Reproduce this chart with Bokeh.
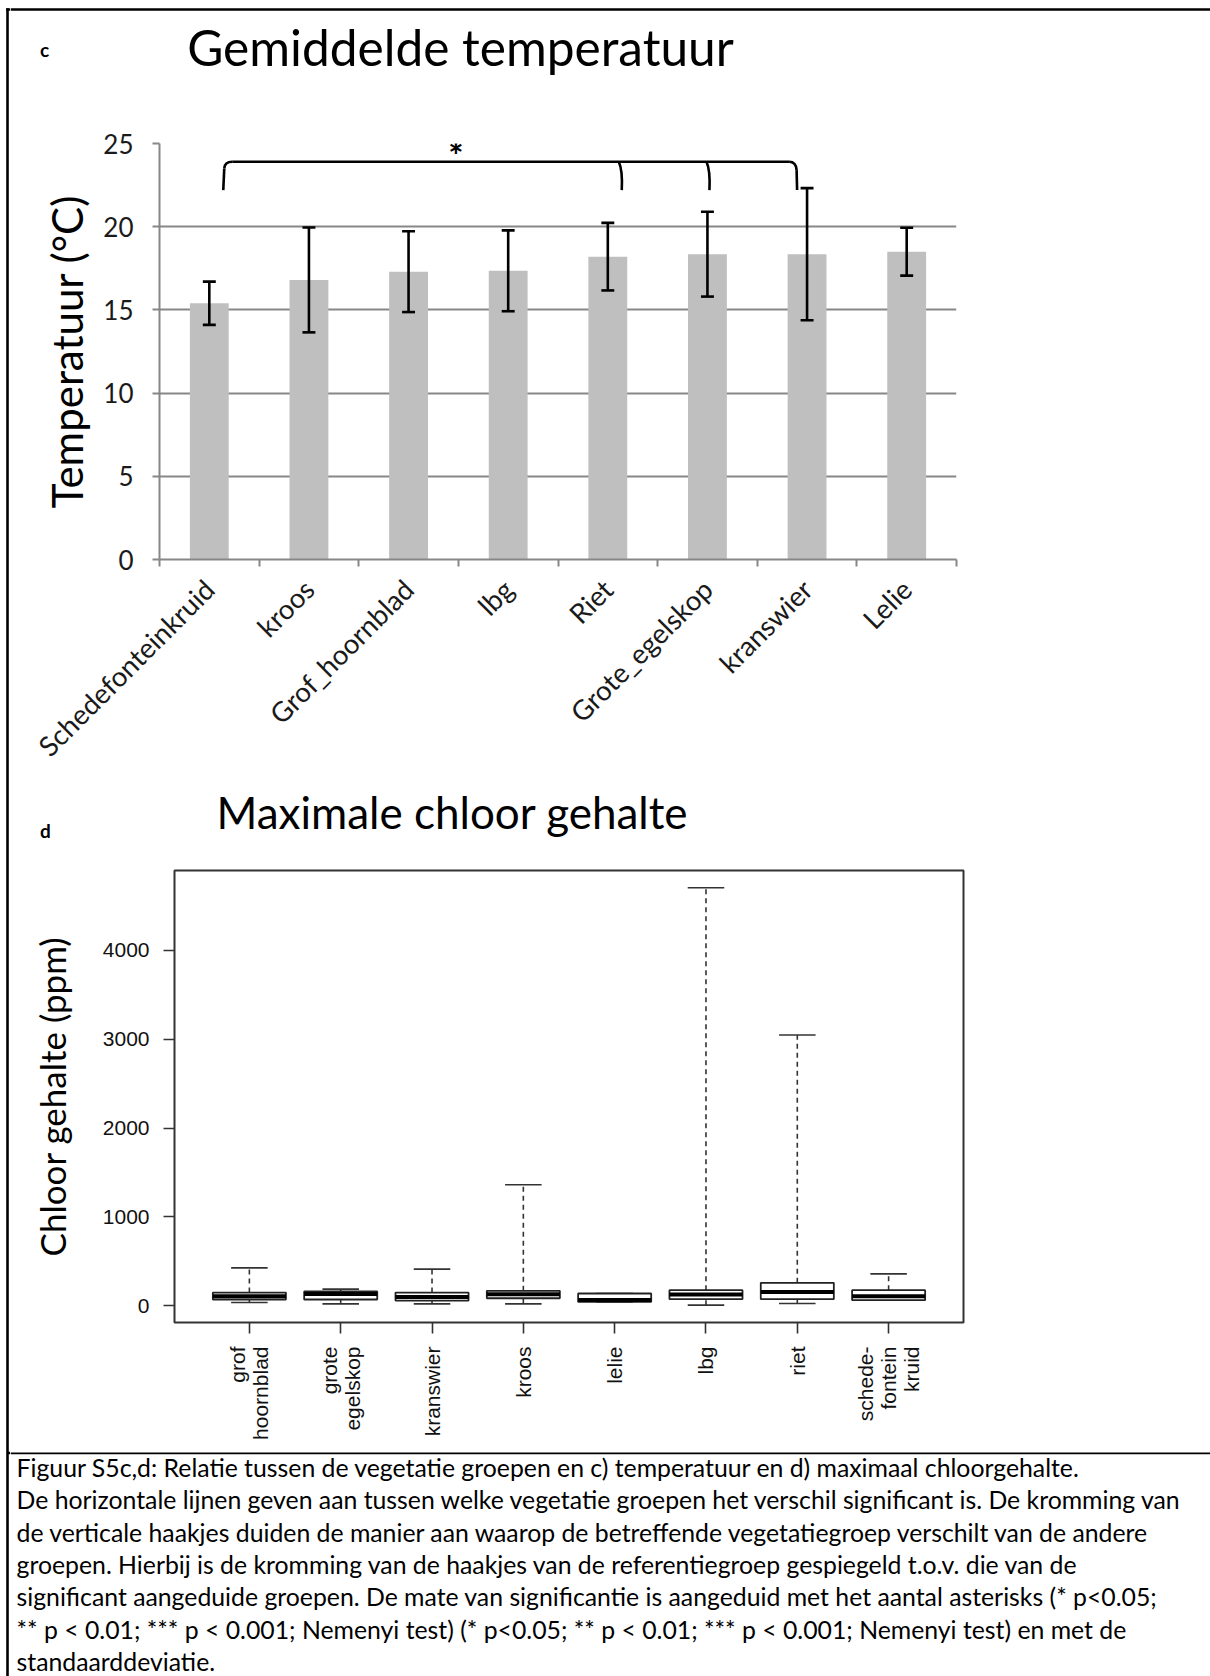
import math
from bokeh.plotting import figure
from bokeh.layouts import column, row
from bokeh.models import Range1d, FixedTicker
from bokeh.core.properties import value
from bokeh.embed import file_html
from bokeh.resources import INLINE

# ---------------- panel c: mean temperature per vegetation group ----------------
temp_groups = ["Schedefonteinkruid", "kroos", "Grof_hoornblad", "lbg",
               "Riet", "Grote_egelskop", "kranswier", "Lelie"]
temp_mean = [15.4, 16.8, 17.3, 17.35, 18.2, 18.35, 18.35, 18.5]
temp_sd = [1.3, 3.15, 2.43, 2.43, 2.03, 2.55, 3.97, 1.44]
temp_ticks = [0, 5, 10, 15, 20, 25]
sig_reference = "Schedefonteinkruid"
sig_groups = ["Riet", "Grote_egelskop", "kranswier"]
sig_mark = "*"

# ---------------- panel d: maximum chloride per vegetation group ----------------
chl_groups = ["grof\nhoornblad", "grote\negelskop", "kranswier", "kroos",
              "lelie", "lbg", "riet", "schede-\nfontein\nkruid"]
chl_low = [38, 22, 22, 22, 45, 8, 27, 64]
chl_q1 = [72, 72, 60, 86, 45, 75, 75, 64]
chl_median = [109, 135, 101, 131, 65, 128, 157, 109]
chl_q3 = [150, 162, 150, 169, 139, 177, 259, 177]
chl_high = [427, 188, 413, 1363, 139, 4704, 3047, 360]
chl_ticks = [0, 1000, 2000, 3000, 4000]

caption_lines = [
    "Figuur S5c,d: Relatie tussen de vegetatie groepen en c) temperatuur en d) maximaal chloorgehalte.",
    "De horizontale lijnen geven aan tussen welke vegetatie groepen het verschil significant is. De kromming van",
    "de verticale haakjes duiden de manier aan waarop de betreffende vegetatiegroep verschilt van de andere",
    "groepen. Hierbij is de kromming van de haakjes van de referentiegroep gespiegeld t.o.v. die van de",
    "significant aangeduide groepen. De mate van significantie is aangeduid met het aantal asterisks (* p<0.05;",
    "** p < 0.01; *** p < 0.001; Nemenyi test) (* p<0.05; ** p < 0.01; *** p < 0.001; Nemenyi test) en met de",
    "standaarddeviatie.",
]

SANS = "Lato"
ARIAL = "Liberation Sans"
GRID = "#878787"
INNER_W = 1200
CAP_H = 224
PAGE_H = 123 + 657 + 70 + 602 + CAP_H


def blank(width, height):
    """A plain drawing surface whose coordinates are pixels from the top-left."""
    p = figure(width=width, height=height, x_range=Range1d(0, width),
               y_range=Range1d(height, 0), min_border=0, toolbar_location=None,
               x_axis_type=None, y_axis_type=None, output_backend="svg",
               frame_align=False)
    p.outline_line_color = None
    p.background_fill_color = "white"
    p.border_fill_color = "white"
    return p


def heading(p, x, y, text, size, bold=False):
    p.text(x=[x], y=[y], text=[text], text_font=value(SANS), text_font_size=size,
           text_font_style="bold" if bold else "normal", text_align="center",
           text_baseline="middle", text_color="black")


# ---------------- heading of panel c (with the page's top rule) ----------------
head_c = blank(INNER_W, 123)
head_c.segment(x0=[0], y0=[9], x1=[INNER_W], y1=[9], line_color="black", line_width=2.6)
heading(head_c, 450, 46, "Gemiddelde temperatuur", "49.6px")
heading(head_c, 34, 49, "c", "19px", bold=True)

# ---------------- panel c ----------------
pc = figure(width=INNER_W, height=657, x_range=Range1d(0.5, 8.5), y_range=Range1d(0, 25),
            min_border_left=149, min_border_right=INNER_W - 946, min_border_top=20,
            min_border_bottom=221, toolbar_location=None, output_backend="svg",
            frame_align=False)
pc.outline_line_color = None
pc.xgrid.visible = False
pc.ygrid.ticker = FixedTicker(ticks=temp_ticks)
pc.ygrid.grid_line_color = GRID
pc.ygrid.grid_line_width = 2

xpos_c = list(range(1, len(temp_groups) + 1))
pc.vbar(x=xpos_c, top=temp_mean, width=0.39, fill_color="#BFBFBF", line_color=None)

lo = [m - s for m, s in zip(temp_mean, temp_sd)]
hi = [m + s for m, s in zip(temp_mean, temp_sd)]
pc.segment(x0=xpos_c, y0=lo, x1=xpos_c, y1=hi, line_color="black", line_width=2.6)
cap = 0.065
pc.segment(x0=[x - cap for x in xpos_c], y0=lo, x1=[x + cap for x in xpos_c], y1=lo,
           line_color="black", line_width=2.6)
pc.segment(x0=[x - cap for x in xpos_c], y0=hi, x1=[x + cap for x in xpos_c], y1=hi,
           line_color="black", line_width=2.6)

# significance bracket: reference group hook on the left, compared groups hanging below
br_y, br_low = 23.9, 22.2
x_ref = xpos_c[temp_groups.index(sig_reference)] + 0.15
x_sig = [xpos_c[temp_groups.index(g)] for g in sig_groups]
x_sig = [x_sig[0] + 0.13, x_sig[1] + 0.01, x_sig[2] - 0.10]
bk = dict(line_color="black", line_width=2.6)
pc.line(x=[x_ref - 0.01, x_ref], y=[br_low, 23.5], **bk)
pc.quadratic(x0=[x_ref], y0=[23.5], x1=[x_ref + 0.08], y1=[br_y],
             cx=[x_ref + 0.005], cy=[br_y], **bk)
pc.line(x=[x_ref + 0.08, x_sig[-1] - 0.08], y=[br_y, br_y], **bk)
for xs in x_sig[:-1]:
    pc.quadratic(x0=[xs - 0.02], y0=[br_y], x1=[xs + 0.01], y1=[br_low],
                 cx=[xs + 0.02], cy=[23.4], **bk)
pc.quadratic(x0=[x_sig[-1] - 0.08], y0=[br_y], x1=[x_sig[-1] - 0.005], y1=[23.4],
             cx=[x_sig[-1] - 0.01], cy=[br_y], **bk)
pc.line(x=[x_sig[-1] - 0.005, x_sig[-1]], y=[23.4, br_low], **bk)
pc.text(x=[(x_ref + x_sig[-1]) / 2 - 0.55], y=[24.3], text=[sig_mark],
        text_font=value(SANS), text_font_size="36px", text_font_style="bold",
        text_align="center", text_baseline="middle", text_color="black")

yc = pc.yaxis[0]
yc.ticker = FixedTicker(ticks=temp_ticks)
yc.axis_line_color = GRID
yc.axis_line_width = 2
yc.major_tick_line_color = GRID
yc.major_tick_line_width = 2
yc.major_tick_out = 7
yc.major_tick_in = 0
yc.minor_tick_line_color = None
yc.major_label_text_font = SANS
yc.major_label_text_font_size = "26px"
yc.major_label_text_color = "#1a1a1a"
yc.major_label_standoff = 19
yc.axis_label = "Temperatuur (°C)"
yc.axis_label_text_font = SANS
yc.axis_label_text_font_size = "42px"
yc.axis_label_text_font_style = "normal"
yc.axis_label_text_color = "black"
yc.axis_label_standoff = 8

xc = pc.xaxis[0]
xc.ticker = FixedTicker(ticks=xpos_c, minor_ticks=[x - 0.5 for x in xpos_c] + [xpos_c[-1] + 0.5])
xc.major_label_overrides = {x: g for x, g in zip(xpos_c, temp_groups)}
xc.major_tick_line_color = None
xc.major_tick_out = 0
xc.major_tick_in = 0
xc.minor_tick_line_color = GRID
xc.minor_tick_line_width = 2
xc.minor_tick_out = 7
xc.minor_tick_in = 0
xc.axis_line_color = GRID
xc.axis_line_width = 2
xc.major_label_orientation = math.pi / 4
xc.major_label_text_font = SANS
xc.major_label_text_font_size = "27.5px"
xc.major_label_text_color = "#1a1a1a"
xc.major_label_standoff = 18

# ---------------- heading of panel d ----------------
head_d = blank(INNER_W, 70)
heading(head_d, 442, 31, "Maximale chloor gehalte", "44px")
heading(head_d, 35, 50, "d", "19px", bold=True)

# ---------------- panel d ----------------
pd_ = figure(width=INNER_W, height=602, x_range=Range1d(0.18, 8.82), y_range=Range1d(-187, 4898),
             min_border_left=164, min_border_right=INNER_W - 953, min_border_top=20,
             min_border_bottom=130, toolbar_location=None, output_backend="svg",
             frame_align=False)
pd_.outline_line_color = "#333333"
pd_.outline_line_width = 2
pd_.grid.visible = False

xpos_d = list(range(1, len(chl_groups) + 1))
half, staple = 0.4, 0.2
wk = dict(line_color="#333333", line_width=1.6)
pd_.segment(x0=xpos_d, y0=chl_q3, x1=xpos_d, y1=chl_high, line_dash="5 4", **wk)
pd_.segment(x0=xpos_d, y0=chl_low, x1=xpos_d, y1=chl_q1, line_dash="5 4", **wk)
pd_.segment(x0=[x - staple for x in xpos_d], y0=chl_high,
            x1=[x + staple for x in xpos_d], y1=chl_high, **wk)
pd_.segment(x0=[x - staple for x in xpos_d], y0=chl_low,
            x1=[x + staple for x in xpos_d], y1=chl_low, **wk)
pd_.quad(left=[x - half for x in xpos_d], right=[x + half for x in xpos_d],
         bottom=chl_q1, top=chl_q3, fill_color="white", line_color="#222222", line_width=1.8)
pd_.segment(x0=[x - half for x in xpos_d], y0=chl_median,
            x1=[x + half for x in xpos_d], y1=chl_median,
            line_color="black", line_width=4, line_cap="butt")

yd = pd_.yaxis[0]
yd.ticker = FixedTicker(ticks=chl_ticks)
yd.axis_line_color = None
yd.major_tick_line_color = "#333333"
yd.major_tick_line_width = 1.6
yd.major_tick_out = 11
yd.major_tick_in = 0
yd.minor_tick_line_color = None
yd.major_label_text_font = ARIAL
yd.major_label_text_font_size = "21px"
yd.major_label_text_color = "#111111"
yd.major_label_standoff = 14
yd.axis_label = "Chloor gehalte (ppm)"
yd.axis_label_text_font = SANS
yd.axis_label_text_font_size = "35px"
yd.axis_label_text_font_style = "normal"
yd.axis_label_text_color = "black"
yd.axis_label_standoff = 27

xd = pd_.xaxis[0]
xd.ticker = FixedTicker(ticks=xpos_d)
xd.major_label_overrides = {x: g for x, g in zip(xpos_d, chl_groups)}
xd.axis_line_color = None
xd.major_tick_line_color = "#333333"
xd.major_tick_line_width = 1.6
xd.major_tick_out = 11
xd.major_tick_in = 0
xd.minor_tick_line_color = None
xd.major_label_orientation = math.pi / 2
xd.major_label_text_font = ARIAL
xd.major_label_text_font_size = "21px"
xd.major_label_text_line_height = 1.0
xd.major_label_text_color = "#111111"
xd.major_label_standoff = 13

# ---------------- caption and page frame ----------------
pcap = blank(INNER_W, CAP_H)
pcap.segment(x0=[0], y0=[0.5], x1=[INNER_W], y1=[0.5], line_color="black", line_width=2.6)
line_gap = 32.3
pcap.text(x=[6] * len(caption_lines), y=[15 + i * line_gap for i in range(len(caption_lines))],
          text=caption_lines, text_font=value(SANS), text_font_size="24.8px",
          text_align="left", text_baseline="middle", text_color="black")

left_strip = blank(10, PAGE_H)
left_strip.segment(x0=[7], y0=[7.7], x1=[7], y1=[PAGE_H], line_color="black", line_width=2.6)
left_strip.segment(x0=[5.7], y0=[9], x1=[10], y1=[9], line_color="black", line_width=2.6)
left_strip.segment(x0=[7], y0=[1452.5], x1=[10], y1=[1452.5], line_color="black", line_width=2.6)

body = column(head_c, pc, head_d, pd_, pcap, spacing=0)
page = row(left_strip, body, spacing=0)

with open("out.html", "w") as f:
    f.write(file_html(page, INLINE))
